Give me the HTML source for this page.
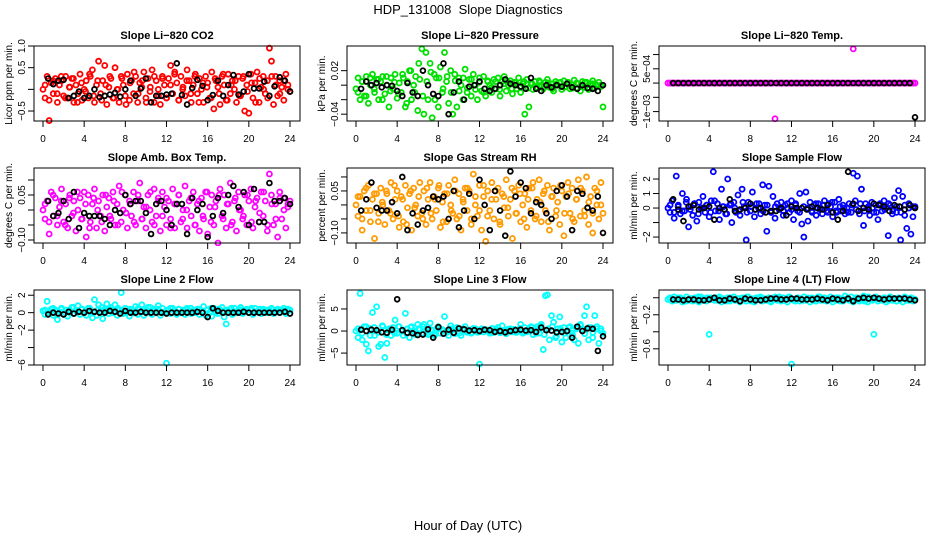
<!DOCTYPE html>
<html><head><meta charset="utf-8">
<style>
html,body{margin:0;padding:0;background:#fff;}
svg{display:block;font-family:"Liberation Sans",sans-serif;}
</style></head>
<body>
<svg id="chart" width="936" height="540" viewBox="0 0 936 540">
<text x="468" y="14" text-anchor="middle" font-size="13">HDP_131008&#160; Slope Diagnostics</text>
<text x="468" y="530" text-anchor="middle" font-size="13">Hour of Day (UTC)</text>
</svg>
<script>
const blackHours = [0.5,1,1.5,2,2.5,3,3.5,4,4.5,5,5.5,6,6.5,7,7.5,8,8.5,9,9.5,10,10.5,11,11.5,12,12.5,13,13.5,14,14.5,15,15.5,16,16.5,17,17.5,18,18.5,19,19.5,20,20.5,21,21.5,22,22.5,23,23.5,24];
const xTicks = [0,4,8,12,16,20,24];

const co2Obs = [0.0,-0.2,0.3,-0.72,0.15,-0.1,0.25,-0.3,0.1,0.2,-0.15,0.3,-0.2,0.05,0.25,-0.3,0.1,-0.1,0.35,-0.25,0.0,0.2,-0.2,0.3,0.45,-0.3,0.1,0.65,-0.1,0.2,0.55,-0.35,0.05,0.25,-0.2,0.5,0.0,-0.3,0.3,0.1,-0.15,0.35,-0.25,0.2,-0.1,0.3,-0.3,0.15,0.05,0.4,-0.2,0.25,-0.05,0.45,-0.3,0.2,0.0,-0.35,0.3,0.1,-0.2,0.25,0.55,-0.1,0.4,0.15,-0.25,0.3,0.05,-0.15,0.45,0.2,-0.3,0.1,0.35,-0.1,0.25,0.0,-0.3,0.3,0.15,-0.2,0.4,-0.45,0.2,0.05,-0.35,0.3,0.1,-0.25,0.35,-0.1,0.2,0.0,-0.3,0.3,-0.15,0.25,-0.5,0.1,-0.55,0.35,-0.2,0.15,0.4,-0.3,0.05,0.3,-0.1,0.2,0.95,0.65,-0.35,0.3,-0.15,0.2,0.05,-0.25,0.35,0.1,-0.05];
const co2Obs2 = [0.1,-0.25,0.2,-0.1,0.3,-0.2,0.05,0.25,-0.3,0.15,-0.05,0.35,-0.15,0.2,-0.25,0.1,0.3,-0.2,0.0,0.25,-0.35,0.15,0.4,-0.1,0.2,-0.3,0.05,0.3,-0.15,0.25,-0.2,0.1,0.35,-0.25,0.0,0.2,-0.1,0.3,-0.3,0.15,0.05,-0.2,0.25,-0.1,0.35,-0.25,0.1,0.2,-0.15,0.3,-0.05,0.15,-0.3,0.25,0.0,-0.2,0.3,0.1,-0.1,0.2,0.0];
const co2Mean = [0.25,0.12,0.2,0.22,-0.2,-0.15,-0.05,-0.2,-0.15,0.0,-0.18,-0.15,-0.12,-0.08,-0.17,0.0,0.2,-0.15,0.02,0.25,-0.3,-0.15,-0.15,-0.12,-0.1,0.6,-0.13,-0.35,0.03,0.22,0.08,-0.25,-0.13,0.2,-0.15,0.1,0.33,-0.12,-0.05,0.35,0.02,0.02,0.18,-0.15,0.07,0.28,0.2,-0.05];

const presObs = [-0.005,0.01,-0.02,0.005,-0.015,0.012,-0.025,0.0,0.015,-0.01,0.008,-0.02,0.005,0.012,-0.012,0.0,-0.03,0.01,-0.005,0.015,-0.018,0.003,-0.01,0.01,-0.03,0.005,0.02,-0.02,0.0,0.012,-0.035,0.008,0.05,-0.04,0.045,-0.02,0.03,-0.045,0.015,0.01,-0.03,0.025,-0.01,0.045,0.005,-0.025,0.02,-0.04,0.015,-0.03,0.01,0.0,-0.02,0.022,-0.01,0.008,-0.015,0.015,0.0,-0.02,0.01,-0.008,0.012,-0.015,0.005,0.0,-0.01,0.008,-0.005,0.01,-0.015,0.005,0.012,-0.008,0.0,0.006,-0.012,0.004,-0.005,0.01,-0.01,0.002,-0.04,0.008,-0.03,0.003,-0.006,0.005,-0.004,0.006,0.0,-0.005,0.004,0.008,-0.003,0.002,-0.008,0.005,0.0,0.003,-0.006,0.006,-0.002,0.004,-0.005,0.0,0.007,-0.004,0.002,-0.008,0.005,-0.003,0.004,-0.006,0.002,0.006,-0.004,0.0,0.004,-0.002,-0.03];
const presObs2 = [-0.01,0.005,-0.015,0.01,-0.005,0.008,-0.02,0.012,-0.008,0.004,-0.012,0.015,-0.025,0.02,-0.01,0.03,-0.015,0.005,0.018,-0.02,0.01,-0.005,0.012,-0.01,0.006,-0.008,0.01,-0.004,0.008,-0.006,0.004,-0.01,0.006,-0.003,0.005,-0.006,0.002,0.004,-0.005,0.003,-0.002,0.005,-0.004,0.002,-0.003,0.004,-0.002,0.003,-0.005,0.002,0.004,-0.003,0.001,-0.004,0.003,-0.002,0.004,-0.003,0.002,-0.001,0.0];
const presMean = [-0.005,0.005,0.0,0.003,-0.003,0.0,-0.001,-0.008,-0.015,0.003,-0.01,-0.015,0.02,0.0,-0.012,-0.015,0.03,-0.04,-0.01,0.005,-0.02,-0.002,0.0,0.005,-0.005,-0.008,-0.005,0.0,0.008,0.002,0.0,-0.002,-0.005,0.01,-0.005,-0.008,0.0,-0.003,0.0,-0.002,0.002,-0.003,-0.005,0.0,-0.004,-0.005,-0.008,0.0];

const tempObs = [0,0,0,0,0,0,0,0,0,0,0, 0,0,0,0,0,0,0,0,0,0,0, 0,0,0,0,0,0,0,0,0,0,0, 0,0,0,0,0,0,0,0,0,0,0, 0,0,0,0,0,0,0,0,-0.00125,0,0, 0,0,0,0,0,0,0,0,0,0,0, 0,0,0,0,0,0,0,0,0,0,0, 0,0,0,0,0,0,0,0,0,0,0, 0,0,0.0012,0,0,0,0,0,0,0,0, 0,0,0,0,0,0,0,0,0,0,0, 0,0,0,0,0,0,0,0,0,0,0];
const tempObs2 = [];
const tempMean = [0,0,0,0,0,0,0,0,0,0,0,0,0,0,0,0,0,0,0,0,0,0,0,0,0,0,0,0,0,0,0,0,0,0,0,0,0,0,0,0,0,0,0,0,0,0,0,-0.0012];

const ambObs = [0.0,-0.03,0.03,-0.08,0.06,-0.02,0.04,-0.05,0.01,0.07,-0.04,0.02,-0.06,0.05,-0.02,0.03,-0.07,0.0,0.04,-0.03,0.06,-0.09,0.05,-0.04,0.02,0.07,-0.06,0.03,-0.02,0.05,-0.07,0.01,0.04,-0.03,0.06,-0.05,0.02,0.08,-0.04,0.0,0.05,-0.06,0.03,-0.02,0.06,-0.05,0.03,0.09,-0.03,0.01,-0.06,0.05,0.0,-0.04,0.07,-0.02,0.04,-0.07,0.06,0.01,-0.05,0.03,-0.03,0.07,-0.06,0.02,0.05,-0.04,0.0,0.08,-0.06,0.03,-0.02,0.06,-0.05,0.02,-0.07,0.04,-0.03,0.06,-0.08,0.01,0.05,-0.05,0.03,-0.11,0.07,-0.02,0.05,-0.06,0.02,0.09,-0.04,0.03,-0.07,0.06,0.0,-0.03,0.05,-0.05,0.03,0.07,-0.06,0.01,0.04,-0.04,0.06,-0.02,0.03,-0.07,0.12,0.05,-0.05,0.02,-0.09,0.06,-0.03,0.04,-0.06,0.01,0.03];
const ambObs2 = [0.02,-0.04,0.05,-0.02,0.03,-0.05,0.04,-0.01,0.06,-0.03,0.02,-0.06,0.04,0.0,-0.04,0.05,-0.02,0.03,-0.05,0.06,-0.01,0.02,-0.04,0.05,-0.03,0.01,0.06,-0.05,0.03,-0.02,0.04,-0.06,0.02,0.05,-0.03,0.0,0.04,-0.05,0.03,-0.02,0.06,-0.04,0.01,0.05,-0.03,0.02,-0.05,0.04,0.0,-0.02,0.05,-0.04,0.03,-0.01,0.06,-0.05,0.02,-0.03,0.04,0.0,0.02];
const ambMean = [0.03,-0.02,-0.01,0.03,-0.03,0.06,-0.06,-0.01,-0.02,-0.02,-0.02,-0.03,-0.05,0.0,-0.01,0.05,0.02,0.03,0.03,-0.01,-0.08,0.02,0.03,0.0,-0.05,0.02,0.02,-0.08,0.04,0.0,0.02,-0.09,-0.02,0.04,-0.01,0.05,0.08,0.01,0.06,-0.05,0.07,-0.04,-0.04,0.09,0.03,0.03,0.04,0.02];

const rhObs = [0.0,-0.04,0.03,-0.09,0.05,-0.02,0.07,-0.06,0.02,-0.12,0.04,-0.03,0.06,0.0,-0.07,0.04,-0.02,0.08,-0.05,0.02,0.05,-0.08,0.03,-0.06,0.07,-0.01,0.04,-0.09,0.06,0.0,-0.04,0.08,-0.03,0.05,-0.07,0.02,0.08,-0.05,0.03,-0.02,0.06,-0.08,0.01,0.04,-0.06,0.07,0.0,-0.03,0.09,-0.05,0.04,-0.09,0.02,0.06,-0.02,0.05,-0.07,0.11,0.0,-0.04,0.07,-0.09,0.03,-0.13,0.05,-0.02,0.08,-0.05,0.02,0.06,-0.07,0.04,-0.01,0.09,-0.04,0.02,-0.12,0.05,-0.03,0.07,-0.06,0.0,0.04,-0.08,0.06,-0.02,0.08,-0.05,0.02,0.09,-0.06,0.04,-0.02,0.07,-0.09,0.03,0.06,-0.04,0.01,-0.07,0.05,-0.11,0.03,0.08,-0.03,0.06,-0.06,0.02,0.09,-0.04,0.05,-0.02,0.1,-0.07,0.03,-0.1,0.06,0.0,-0.05,0.08,-0.03];
const rhObs2 = [0.03,-0.05,0.06,-0.02,0.04,-0.06,0.01,0.05,-0.03,0.07,-0.04,0.02,-0.07,0.05,-0.01,0.03,-0.05,0.06,-0.03,0.02,0.07,-0.06,0.04,-0.02,0.05,-0.04,0.01,0.06,-0.05,0.03,-0.02,0.07,-0.04,0.02,0.05,-0.06,0.03,-0.01,0.06,-0.03,0.04,-0.05,0.02,0.06,-0.04,0.01,0.05,-0.06,0.03,-0.02,0.07,-0.03,0.04,-0.05,0.02,0.06,-0.04,0.01,-0.03,0.05,0.0];
const rhMean = [-0.02,0.02,0.08,-0.01,-0.02,-0.02,0.01,-0.03,0.1,-0.09,-0.03,-0.07,-0.02,-0.01,0.03,0.02,0.03,-0.05,0.05,-0.08,-0.02,0.04,-0.05,0.09,0.0,-0.09,0.05,-0.02,-0.11,0.12,0.03,0.08,0.06,-0.03,0.01,0.0,-0.03,-0.05,0.05,0.07,0.03,-0.09,0.05,0.04,-0.01,-0.02,0.03,-0.1];

const sampObs = [0.0,-0.3,0.5,-0.7,2.2,0.2,-0.4,1.0,-0.2,0.6,-1.3,0.1,-0.5,0.3,-0.9,0.4,0.0,0.8,-0.3,0.2,-0.6,0.5,2.5,-0.2,0.3,-0.8,1.3,0.1,-0.4,2.0,0.2,-1.0,0.4,-0.3,0.9,-0.5,1.3,0.1,-2.2,0.4,-0.2,1.1,-0.6,0.3,0.0,-0.4,1.6,0.2,-1.6,1.5,-0.3,0.8,-0.7,0.3,-0.1,0.4,-0.5,0.2,0.0,-0.3,0.5,-0.8,0.3,-0.2,1.0,-1.1,-2.0,1.1,-0.9,0.4,-0.3,0.2,-0.5,0.3,0.0,-0.4,0.5,-0.2,0.3,0.1,-0.6,0.4,-0.3,0.6,-0.2,0.2,-0.4,0.0,0.3,-0.3,2.4,0.5,2.2,-0.4,1.3,-1.2,0.3,0.0,-0.5,0.4,-0.3,0.2,-0.8,0.3,-0.2,0.5,0.0,-1.9,0.2,-0.4,0.7,-0.3,1.2,-2.2,0.8,-0.5,-1.4,0.3,-1.8,-0.6,0.1];
const sampObs2 = [0.2,-0.3,0.1,-0.2,0.4,-0.1,0.3,-0.4,0.0,0.2,-0.3,0.5,-0.2,0.1,-0.4,0.3,0.0,-0.2,0.4,-0.3,0.1,-0.1,0.3,-0.2,0.2,-0.3,0.1,0.0,-0.2,0.3,-0.1,0.2,-0.3,0.1,0.0,-0.2,0.3,-0.1,0.2,-0.3,0.4,-0.2,0.1,0.0,-0.3,0.2,-0.1,0.3,-0.2,0.1,0.0,-0.3,0.2,-0.1,0.3,-0.2,0.1,-0.3,0.2,0.0,0.1];
const sampMean = [0.6,-0.1,-0.9,0.1,0.2,-0.1,0.0,0.1,-0.8,0.0,-0.1,0.6,-0.2,-0.1,0.0,0.3,-0.1,0.0,-0.3,-0.2,-0.2,0.0,-0.5,0.1,0.0,0.0,-0.1,0.1,0.0,-0.1,0.2,-0.3,-0.8,-0.2,2.5,0.3,-0.2,0.0,-0.1,0.3,0.2,0.1,-0.2,0.2,0.1,-0.1,0.2,0.0];

const line2Obs = [0.2,-0.2,1.3,0.0,0.4,-0.3,0.3,-0.8,0.1,0.5,-0.2,0.3,-0.4,0.0,0.6,-0.1,0.2,0.8,-0.2,0.4,0.0,-0.3,0.5,0.1,-0.6,1.5,-0.3,0.9,0.2,-0.7,0.4,1.0,-0.1,0.6,0.0,0.9,-0.3,0.3,2.3,-0.1,0.5,0.2,-0.4,0.3,0.0,0.7,-0.2,0.4,0.9,-0.3,0.2,0.6,0.0,-0.2,0.4,0.1,0.8,-0.3,0.5,0.0,-5.8,0.3,-0.1,0.5,0.2,-0.2,0.4,0.0,0.3,-0.2,0.5,0.1,-0.1,0.3,0.0,0.4,-0.2,0.2,0.7,-0.3,0.3,0.0,-0.4,0.5,0.2,-0.1,0.3,0.6,-0.5,-1.3,0.2,0.4,-0.2,0.5,0.0,0.3,0.6,-0.1,0.2,0.4,0.0,0.3,-0.2,0.5,0.1,0.3,-0.1,0.4,0.2,0.0,0.3,0.5,-0.1,0.2,0.4,0.0,0.3,0.5,-0.1,0.2,0.3];
const line2Obs2 = [0.3,0.1,0.5,0.2,0.4,0.0,0.3,0.6,0.1,0.4,0.2,0.5,0.0,0.3,0.6,0.2,0.4,0.1,0.5,0.3,0.0,0.4,0.2,0.5,0.1,0.3,0.6,0.2,0.4,0.0,0.3,0.5,0.1,0.4,0.2,0.3,0.5,0.1,0.4,0.2,0.3,0.5,0.0,0.4,0.2,0.3,0.5,0.1,0.4,0.2,0.3,0.5,0.1,0.4,0.2,0.3,0.4,0.1,0.3,0.2,0.4];
const line2Mean = [-0.2,0.0,-0.1,-0.2,0.1,-0.1,0.1,0.0,0.2,0.1,0.0,0.0,0.2,0.1,-0.1,0.2,0.0,0.0,0.1,0.0,0.0,0.0,0.0,-0.1,0.0,0.0,0.0,0.0,0.0,0.1,0.0,-0.5,0.5,0.2,0.0,0.0,0.0,0.0,0.1,0.0,0.0,0.0,0.0,0.0,0.0,0.0,0.1,-0.1];

const line3Obs = [0.0,-1.5,8.5,-2.0,1.0,-3.0,-4.5,0.5,4.2,-1.0,5.5,-3.5,-3.0,1.0,-6.0,-2.8,0.5,-1.0,0.8,2.5,-0.5,1.0,0.0,-1.0,4.0,0.5,-1.5,1.0,0.0,-0.8,1.5,0.3,-0.5,1.5,0.0,-0.8,1.8,0.2,-1.0,0.5,1.0,-0.5,0.3,3.3,0.0,-1.0,1.2,0.3,-0.6,0.8,0.0,-1.0,0.5,1.0,-0.3,0.2,-0.5,0.6,0.0,-0.3,-7.5,0.5,-0.2,0.3,0.0,-0.5,0.6,-0.3,0.2,0.8,-0.4,1.2,0.0,-0.6,0.3,0.5,-0.2,0.4,-0.3,0.0,1.5,-0.5,0.8,-0.2,0.3,1.0,-0.8,0.5,1.0,-0.5,1.5,-4.2,8.0,8.2,-2.0,3.5,2.0,-1.5,0.5,3.2,-2.5,0.8,-1.5,0.0,1.0,-0.5,-2.0,0.8,-2.8,1.5,0.5,3.5,5.5,-2.0,0.8,-1.5,3.5,1.0,-2.8,0.5,-0.5];
const line3Obs2 = [0.5,-0.5,1.0,-1.0,0.8,-0.3,1.2,-0.8,0.3,-0.5,1.0,0.2,-0.6,0.8,-0.2,0.5,1.0,-0.4,0.3,-0.8,0.6,0.0,-0.3,0.5,0.2,-0.5,0.4,0.0,-0.3,0.5,-0.2,0.3,0.0,-0.4,0.5,0.2,-0.2,0.4,0.0,-0.3,0.6,-0.2,0.3,0.8,-0.5,1.2,-0.8,0.5,1.0,-1.2,0.6,-0.5,0.8,-1.0,0.5,1.2,-0.6,0.8,-0.3,0.5,0.0];
const line3Mean = [0.3,0.0,0.3,0.2,-0.3,-0.4,0.3,7.2,0.2,-0.4,-0.5,-0.9,-0.8,0.4,-1.5,0.9,-0.6,0.3,-0.4,0.6,0.4,0.1,0.2,0.0,0.3,0.2,-0.2,0.0,-0.3,0.0,0.2,0.3,0.1,0.2,-0.2,0.8,0.2,0.1,-0.3,-0.2,0.0,-1.5,1.0,0.0,0.6,0.5,-4.5,-1.2];

const line4Obs = [-0.02,0.0,-0.04,0.01,-0.03,-0.01,0.0,-0.05,-0.02,0.01,-0.03,-0.01,-0.04,0.0,-0.02,-0.05,0.01,-0.03,-0.01,0.0,-0.43,-0.02,-0.02,0.0,-0.03,0.01,-0.05,-0.01,-0.02,0.0,-0.04,-0.02,0.01,-0.03,-0.01,-0.05,0.0,-0.02,-0.04,0.01,-0.03,-0.01,-0.05,0.0,-0.02,0.01,-0.04,-0.01,-0.03,0.0,-0.05,-0.02,0.01,-0.03,-0.01,-0.04,0.0,-0.02,-0.05,0.01,-0.78,-0.03,-0.01,0.0,-0.04,-0.02,0.01,-0.03,-0.01,-0.05,0.0,-0.02,-0.04,0.01,-0.03,-0.01,0.0,-0.04,-0.02,0.01,-0.05,-0.01,-0.03,0.0,-0.02,-0.04,0.02,-0.01,-0.03,0.01,-0.05,-0.02,0.0,-0.04,-0.01,0.02,-0.03,-0.05,0.0,-0.02,-0.43,0.01,-0.04,-0.01,-0.03,0.0,-0.05,-0.02,0.01,-0.03,-0.01,-0.04,0.0,-0.02,-0.05,0.01,-0.03,-0.01,0.0,-0.04,-0.02];
const line4Obs2 = [-0.01,-0.03,0.0,-0.02,-0.04,-0.01,-0.03,0.01,-0.02,-0.04,0.0,-0.03,-0.01,-0.02,-0.04,0.0,-0.03,-0.01,-0.02,0.01,-0.04,-0.02,0.0,-0.03,-0.01,-0.04,-0.02,0.01,-0.03,0.0,-0.02,-0.04,-0.01,-0.03,0.0,-0.02,-0.04,0.01,-0.03,-0.01,-0.02,0.0,-0.04,-0.02,-0.01,-0.03,0.0,-0.02,-0.04,0.01,-0.03,-0.01,-0.02,0.0,-0.03,-0.01,-0.04,-0.02,0.0,-0.03,-0.01];
const line4Mean = [-0.02,-0.02,-0.03,-0.02,-0.02,-0.03,-0.03,-0.02,0.0,-0.03,-0.03,-0.01,-0.02,-0.04,-0.01,-0.02,-0.03,-0.03,-0.02,-0.01,-0.01,-0.02,-0.02,-0.01,-0.01,-0.02,-0.02,-0.02,-0.01,-0.02,-0.03,-0.01,-0.02,-0.03,-0.01,-0.04,-0.01,0.0,-0.01,0.0,-0.01,-0.02,-0.01,-0.01,-0.01,-0.01,-0.02,-0.03];

const co2Ticks=[-0.5,0,0.5,1.0], co2Labels=["\u22120.5","","0.5","1.0"];
const presTicks=[-0.04,-0.02,0,0.02], presLabels=["\u22120.04","","","0.02"];
const tempTicks=[-0.001,-0.0005,0,0.0005,0.001], tempLabels=["\u22121e\u221203","","","5e\u221204",""];
const ambTicks=[-0.1,-0.05,0,0.05,0.1], ambLabels=["\u22120.10","","","0.05",""];
const rhTicks=[-0.1,-0.05,0,0.05,0.1], rhLabels=["\u22120.10","","","0.05",""];
const sampTicks=[-2,-1,0,1,2], sampLabels=["\u22122","","0","1","2"];
const line2Ticks=[-6,-4,-2,0,2], line2Labels=["\u22126","","\u22122","0","2"];
const line3Ticks=[-5,0,5], line3Labels=["\u22125","0","5"];
const line4Ticks=[-0.6,-0.4,-0.2,0], line4Labels=["\u22120.6","","\u22120.2",""];

const NS="http://www.w3.org/2000/svg";
const svg=document.getElementById('chart');
function mk(tag,attrs,parent){const e=document.createElementNS(NS,tag);for(const k in attrs)e.setAttribute(k,attrs[k]);(parent||svg).appendChild(e);return e;}

const panels=[
 {id:'co2',title:'Slope Li\u2212820 CO2',ylab:'Licor ppm per min.',col:0,row:0,ymin:-0.73,ymax:1.0,obs:co2Obs,obs2:co2Obs2,mean:co2Mean,ticks:co2Ticks,labels:co2Labels,color:'#ff0000'},
 {id:'pressure',title:'Slope Li\u2212820 Pressure',ylab:'kPa per min.',col:1,row:0,ymin:-0.0494,ymax:0.054,obs:presObs,obs2:presObs2,mean:presMean,ticks:presTicks,labels:presLabels,color:'#00e000'},
 {id:'temp',title:'Slope Li\u2212820 Temp.',ylab:'degrees C per min.',col:2,row:0,ymin:-0.00133,ymax:0.0013,obs:tempObs,obs2:tempObs2,mean:tempMean,ticks:tempTicks,labels:tempLabels,color:'#ff00ff'},
 {id:'amb-temp',title:'Slope Amb. Box Temp.',ylab:'degrees C per min.',col:0,row:1,ymin:-0.11,ymax:0.14,obs:ambObs,obs2:ambObs2,mean:ambMean,ticks:ambTicks,labels:ambLabels,color:'#ff00ff'},
 {id:'rh',title:'Slope Gas Stream RH',ylab:'percent per min.',col:1,row:1,ymin:-0.136,ymax:0.132,obs:rhObs,obs2:rhObs2,mean:rhMean,ticks:rhTicks,labels:rhLabels,color:'#ff9a00'},
 {id:'sample-flow',title:'Slope Sample Flow',ylab:'ml/min per min.',col:2,row:1,ymin:-2.41,ymax:2.76,obs:sampObs,obs2:sampObs2,mean:sampMean,ticks:sampTicks,labels:sampLabels,color:'#0000ff'},
 {id:'line2',title:'Slope Line 2 Flow',ylab:'ml/min per min.',col:0,row:2,ymin:-6.0,ymax:2.6,obs:line2Obs,obs2:line2Obs2,mean:line2Mean,ticks:line2Ticks,labels:line2Labels,color:'#00ffff'},
 {id:'line3',title:'Slope Line 3 Flow',ylab:'ml/min per min.',col:1,row:2,ymin:-7.7,ymax:9.3,obs:line3Obs,obs2:line3Obs2,mean:line3Mean,ticks:line3Ticks,labels:line3Labels,color:'#00ffff'},
 {id:'line4',title:'Slope Line 4 (LT) Flow',ylab:'ml/min per min.',col:2,row:2,ymin:-0.79,ymax:0.091,obs:line4Obs,obs2:line4Obs2,mean:line4Mean,ticks:line4Ticks,labels:line4Labels,color:'#00ffff'}
];
const LEFTS=[34,347,659], TOPS=[46,168,290], W=266, H=75;

panels.forEach(p=>{
  const L=LEFTS[p.col], T=TOPS[p.row];
  const xs=h=>L+9+h*(W-19)/24;
  const ys=v=>T+(p.ymax-v)/(p.ymax-p.ymin)*H;
  const g=mk('g',{});
  
  
  const t=mk('text',{x:L+W/2,y:T-7,'text-anchor':'middle','font-size':11,'font-weight':'bold'},g);
  t.textContent=p.title;
  
  
  const cx=L-22, cy=T+H/2;
  const yl=mk('text',{x:cx,y:cy,'text-anchor':'middle','font-size':10,transform:`rotate(-90 ${cx} ${cy})`},g);
  yl.textContent=p.ylab;
  
  
  const cp=mk('clipPath',{id:'cp-'+p.id},g);
  mk('rect',{x:L,y:T-3,width:W,height:H+6},cp);
  const pts=mk('g',{'clip-path':`url(#cp-${p.id})`,fill:'none'},g);
  
  
  const n=p.obs.length;
  p.obs.forEach((v,i)=>{
    const c=mk('circle',{cx:xs(i*24/(n-1)),cy:ys(v),r:2.5,stroke:p.color,'stroke-width':1.8},pts);
    
    
  });
  const n2=p.obs2.length;
  p.obs2.forEach((v,i)=>{
    const c=mk('circle',{cx:xs(0.2+i*23.6/(n2-1)),cy:ys(v),r:2.5,stroke:p.color,'stroke-width':1.8},pts);
    
    
  });
  const mg=mk('g',{fill:'none'},g);
  
  
  p.mean.forEach((v,i)=>{
    if(i>=blackHours.length)return;
    const c=mk('circle',{cx:xs(blackHours[i]),cy:ys(v),r:2.4,stroke:'#000','stroke-width':1.8},mg);
    
    
  });
  const box=mk('rect',{x:L,y:T,width:W,height:H,fill:'none',stroke:'#000','stroke-width':1},g);
  
  
  const xa=mk('g',{},g);
  
  
  xTicks.forEach(h=>{
    mk('line',{x1:xs(h),x2:xs(h),y1:T+H,y2:T+H+6,stroke:'#000'},xa);
    const tl=mk('text',{x:xs(h),y:T+H+21,'text-anchor':'middle','font-size':10},xa);
    tl.textContent=String(h);
    
    
  });
  const ya=mk('g',{},g);
  
  
  p.ticks.forEach((v,i)=>{
    const y=ys(v);
    mk('line',{x1:L-6,x2:L,y1:y,y2:y,stroke:'#000'},ya);
    if(p.labels[i]){
      const lx=L-9;
      const tl=mk('text',{x:lx,y:y,'text-anchor':'middle','font-size':10,transform:`rotate(-90 ${lx} ${y})`},ya);
      tl.textContent=p.labels[i];
      
      
    }
  });
});
</script>
</body></html>
